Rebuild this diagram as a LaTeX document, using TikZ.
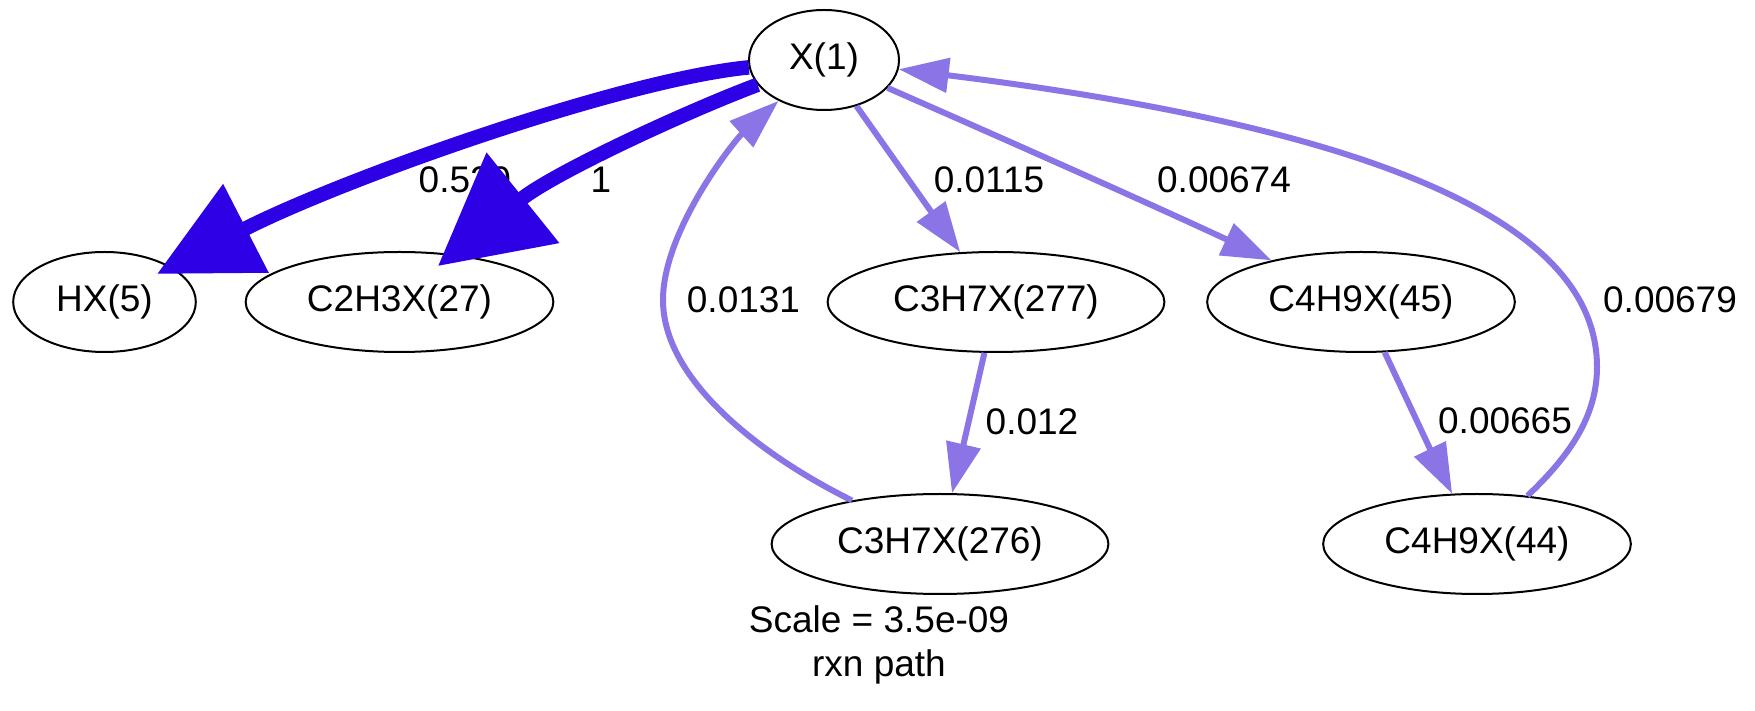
\documentclass[tikz,border=0pt]{standalone}
\usepackage{fontspec}
\setmainfont{Liberation Sans}
\usetikzlibrary{positioning,shapes.geometric,arrows.meta}
\definecolor{fluxstrong}{RGB}{46,0,230}
\definecolor{fluxweak}{RGB}{139,116,230}

\begin{document}
\begin{tikzpicture}[line join=bevel,
  font=\fontsize{14.8bp}{17.6bp}\selectfont,
  species/.style={ellipse,draw,line width=0.8bp,minimum width=60bp,minimum height=40bp,inner xsep=6.5bp,inner ysep=0bp},
  strong/.style={draw=fluxstrong,line width=5.8bp},
  weak/.style={draw=fluxweak,line width=2.4bp,-{Triangle[length=20bp,width=13.6bp]}},
]
\useasboundingbox (0bp,0bp) rectangle (702bp,284.4bp);
%%
\node (X1) at (329.6bp,260.4bp) [species] {X(1)};
  \node (HX5) at (41.8bp,163.6bp) [species] {HX(5)};
  \node (C2H3X27) at (159.8bp,163.6bp) [species] {C2H3X(27)};
  \node (C3H7X277) at (398.4bp,163.6bp) [species] {C3H7X(277)};
  \node (C4H9X45) at (544.4bp,163.6bp) [species] {C4H9X(45)};
  \node (C3H7X276) at (376bp,66.8bp) [species] {C3H7X(276)};
  \node (C4H9X44) at (590.8bp,66.8bp) [species] {C4H9X(44)};
  \draw [strong,-{Triangle[length=40bp,width=38.4bp]}] (X1) ..controls (248bp,252.4bp) and (136bp,212.4bp)  .. ([shift={(21bp,11.2bp)}]HX5.center);
  \node (fluxHX5) at (186bp,212.4bp) {0.529};
  \draw [strong,-{Triangle[length=43.6bp,width=45bp]}] (X1) ..controls (276bp,240.4bp) and (222bp,215.6bp)  .. ([shift={(15.4bp,14.4bp)}]C2H3X27.center);
  \node (fluxC2H3X27) at (240.4bp,212.4bp) {1};
  \draw [weak] (X1) ..controls (357.04bp,221.5bp) and (371.84bp,200.6bp)  .. (C3H7X277);
  \node (fluxC3H7X277) at (395.6bp,212.4bp) {0.0115};
  \draw [weak] (X1) ..controls (408bp,226bp) and (460.4bp,202.7bp)  .. (C4H9X45);
  \node (fluxC4H9X45) at (489.6bp,212.4bp) {0.00674};
  \draw [weak] (C3H7X276) ..controls (304bp,102.4bp) and (265.2bp,132.4bp)  .. (265.2bp,164.4bp)
    ..controls (265.2bp,192.4bp) and (294bp,228.4bp)  .. (X1);
  \node (fluxC3H7X276) at (297.4bp,164.4bp) {0.0131};
  \draw [weak] (C4H9X44) ..controls (626bp,100.4bp) and (638.8bp,116.4bp)  .. (638.8bp,137.6bp)
    ..controls (638.8bp,185.6bp) and (578.8bp,229.6bp)  .. (X1);
  \node (fluxC4H9X44) at (668bp,164.4bp) {0.00679};
  \draw [weak] (C3H7X277) ..controls (389.2bp,123.2bp) and (384.4bp,102.4bp)  .. (C3H7X276);
  \node (flux277to276) at (412.8bp,115.6bp) {0.012};
  \draw [weak] (C4H9X45) ..controls (563.2bp,123.6bp) and (572.6bp,103.6bp)  .. (C4H9X44);
  \node (flux45to44) at (602bp,116bp) {0.00665};
%
\node (graphlabel) at (351.6bp,26.4bp) [align=center] {Scale = 3.5e-09\\rxn path};
\end{tikzpicture}
\end{document}
